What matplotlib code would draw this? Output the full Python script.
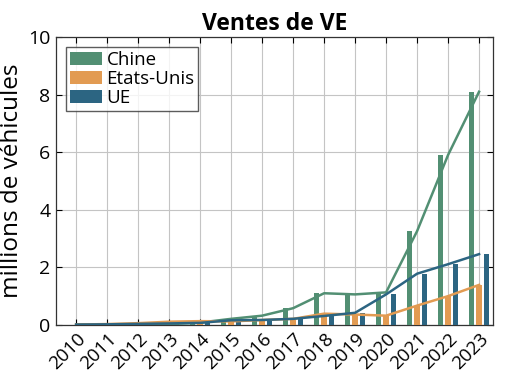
import matplotlib
matplotlib.use("Agg")
import matplotlib.pyplot as plt
import numpy as np

plt.rcParams['font.family'] = ['Open Sans', 'DejaVu Sans']

years = [2010, 2011, 2012, 2013, 2014, 2015, 2016, 2017, 2018, 2019, 2020, 2021, 2022, 2023]
chine = [0.0014, 0.005, 0.01, 0.015, 0.07, 0.2, 0.31, 0.57, 1.09, 1.05, 1.12, 3.25, 5.9, 8.1]
etats_unis = [0.001, 0.018, 0.05, 0.1, 0.12, 0.11, 0.16, 0.2, 0.38, 0.35, 0.31, 0.66, 0.99, 1.38]
ue = [0.001, 0.009, 0.025, 0.04, 0.06, 0.15, 0.16, 0.2, 0.3, 0.41, 1.05, 1.77, 2.1, 2.45]

c_green = '#528f73'
c_orange = '#e29b52'
c_blue = '#2c6582'

fig = plt.figure(figsize=(5.1, 3.82), dpi=100)
ax = fig.add_axes([0.1098, 0.1503, 0.8569, 0.7526])

x = np.array(years)
w = 0.18
ax.bar(x - 0.25, chine, w, color=c_green, label='Chine', zorder=3)
ax.bar(x, etats_unis, w, color=c_orange, label='Etats-Unis', zorder=3)
ax.bar(x + 0.24, ue, w, color=c_blue, label='UE', zorder=3)

ax.plot(x, chine, color=c_green, lw=1.8, zorder=4)
ax.plot(x, etats_unis, color=c_orange, lw=1.8, zorder=4)
ax.plot(x, ue, color=c_blue, lw=1.8, zorder=4)

ax.set_xlim(2009.35, 2023.45)
ax.set_ylim(0, 10)
ax.set_xticks(years)
ax.set_xticklabels([str(y) for y in years], rotation=45, ha='right',
                   rotation_mode='anchor', fontsize=13.5)
ax.set_yticks([0, 2, 4, 6, 8, 10])
ax.tick_params(axis='y', labelsize=14)
ax.tick_params(direction='in', length=4, width=0.8, top=True, right=True, pad=4)
ax.grid(True, color='#c4c4c4', lw=0.8, zorder=0)
ax.set_axisbelow(True)
for s in ax.spines.values():
    s.set_color('#333333')
    s.set_linewidth(0.9)

ax.set_ylabel('millions de véhicules', fontsize=17.5, labelpad=3)
ax.set_title('Ventes de VE', fontsize=16.5, fontweight='bold', pad=5)

leg = ax.legend(loc='upper left', fontsize=13.5, frameon=True, fancybox=False,
                handlelength=1.7, handleheight=0.7, handletextpad=0.25,
                labelspacing=0.05, borderpad=0.2, borderaxespad=0.55)
leg.get_frame().set_edgecolor('#333333')
leg.get_frame().set_linewidth(1.0)

fig.savefig('out.png', dpi=100)
